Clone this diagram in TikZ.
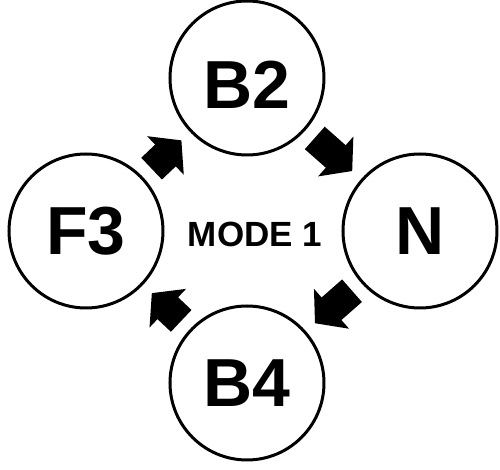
\documentclass[tikz,border=0pt]{standalone}
\usepackage{fontspec}
\setmainfont{Liberation Sans}
\usetikzlibrary{arrows.meta}
\begin{document}
\begin{tikzpicture}[x=0.5pt, y=-0.5pt,
		gear/.style={circle, draw, line width=1.5pt, minimum size=77pt, inner sep=0pt, font=\fontsize{34}{34}\selectfont\bfseries},
		flow/.style={line width=15pt, -{Triangle[width=26pt, length=11pt]}, shorten <=6pt, shorten >=6pt}]
		\useasboundingbox (0,0) rectangle (500,470);
		\node[gear, text height=31pt, text depth=0pt] (B2) at (247, 78) {B2};
		\node[gear] (N) at (420, 231) {N};
		\node[gear] (B4) at (247, 383) {B4};
		\node[gear] (F3) at (86, 231) {F3};
		\node[font=\fontsize{17.5}{17.5}\selectfont\bfseries] (mode) at (255, 234) {MODE 1};

		\path (F3) edge[flow] (B2)
		(B2) edge[flow] (N)
		(N) edge[flow] (B4)
		(B4) edge[flow] (F3);
	\end{tikzpicture}
\end{document}
